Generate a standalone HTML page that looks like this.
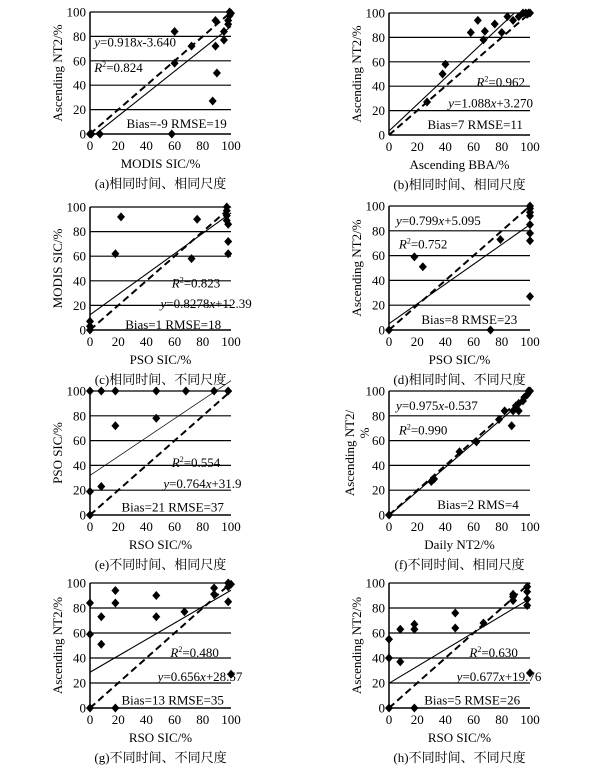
<!DOCTYPE html>
<html><head><meta charset="utf-8"><style>
html,body{margin:0;padding:0;background:#fff}
svg{display:block}
text{font-family:"Liberation Serif","Noto Serif CJK SC","Noto Sans CJK SC",serif;fill:#000}
</style></head><body>
<svg id="s" width="609" height="772" xmlns="http://www.w3.org/2000/svg"></svg>
<script>
const P=[
{x0:90,y0:134,yt:12,xl:"MODIS SIC/%",yl:"Ascending NT2/%",cap:"(a)相同时间、相同尺度",
 pts:[[0,0],[1,0],[7,0],[58,0],[60,58],[60,84],[72,72],[87,27],[89,93],[89,72],[90,50],[95,84],[95,77],[98,90],[98,93],[99,97],[99,100],[100,99]],
 reg:[0.918,-3.64],rx:[4,100],tx:[["y=0.918x-3.640",3,75,"s"],["R2=0.824",3,54,"s"],["Bias=-9 RMSE=19",97,8,"e"]]},
{x0:389,y0:135,yt:13,xl:"Ascending BBA/%",yl:"Ascending NT2/%",cap:"(b)相同时间、相同尺度",
 pts:[[27,27],[38,50],[40,58],[58,84],[63,94],[67,78],[68,85],[75,91],[80,84],[84,97],[88,94],[92,97],[95,100],[97,100],[99,100],[100,100],[98,99]],
 reg:[1.088,3.27],rx:[0,89],tx:[["R2=0.962",62,43,"s"],["y=1.088x+3.270",42,26,"s"],["Bias=7 RMSE=11",95,8,"e"]]},
{x0:90,y0:330,yt:207,xl:"PSO SIC/%",yl:"MODIS SIC/%",cap:"(c)相同时间、不同尺度",
 pts:[[0,0],[0,3],[0,7],[18,62],[22,92],[72,58],[76,90],[97,100],[97,97],[97,93],[97,89],[98,72],[98,62],[98,86]],
 reg:[0.8278,12.39],rx:[0,100],tx:[["R2=0.823",58,38,"s"],["y=0.8278x+12.39",50,21,"s"],["Bias=1 RMSE=18",93,4,"e"]]},
{x0:389,y0:330,yt:206,xl:"PSO SIC/%",yl:"Ascending NT2/%",cap:"(d)相同时间、不同尺度",
 pts:[[0,0],[18,59],[24,51],[72,0],[79,73],[100,27],[100,72],[100,78],[100,85],[100,92],[100,95],[100,98],[100,100]],
 reg:[0.799,5.095],rx:[0,100],tx:[["y=0.799x+5.095",5,88,"s"],["R2=0.752",7,69,"s"],["Bias=8 RMSE=23",91,8,"e"]]},
{x0:90,y0:515,yt:391,xl:"RSO SIC/%",yl:"PSO SIC/%",cap:"(e)不同时间、相同尺度",
 pts:[[0,0],[0,19],[0,100],[8,23],[8,100],[18,72],[18,100],[47,78],[47,100],[68,100],[88,100],[98,100]],
 reg:[0.764,31.9],rx:[0,100],thin:1,tx:[["R2=0.554",58,42,"s"],["y=0.764x+31.9",52,25,"s"],["Bias=21 RMSE=37",95,6,"e"]]},
{x0:389,y0:515,yt:391,xl:"Daily NT2/%",yl:"Ascending NT2/",yl2:"%",cap:"(f)不同时间、相同尺度",
 pts:[[0,0],[30,27],[32,29],[50,51],[62,59],[78,77],[82,84],[87,72],[88,84],[90,88],[92,84],[92,90],[95,92],[96,95],[98,97],[99,100],[100,100]],
 reg:[0.975,-0.537],rx:[1,100],tx:[["y=0.975x-0.537",5,88,"s"],["R2=0.990",7,68,"s"],["Bias=2 RMS=4",92,8,"e"]]},
{x0:90,y0:708,yt:583,xl:"RSO SIC/%",yl:"Ascending NT2/%",cap:"(g)不同时间、不同尺度",
 pts:[[0,0],[0,59],[0,84],[8,73],[8,51],[18,94],[18,84],[18,0],[47,90],[47,73],[67,77],[88,96],[88,91],[98,100],[98,97],[98,85],[100,27],[100,99]],
 reg:[0.656,28.57],rx:[0,100],tx:[["R2=0.480",57,44,"s"],["y=0.656x+28.57",48,25,"s"],["Bias=13 RMSE=35",95,6,"e"]]},
{x0:389,y0:708,yt:583,xl:"RSO SIC/%",yl:"Ascending NT2/%",cap:"(h)不同时间、不同尺度",
 pts:[[0,0],[0,40],[0,55],[8,37],[8,63],[18,63],[18,67],[18,0],[47,64],[47,76],[67,68],[88,86],[88,89],[88,91],[98,97],[98,93],[98,87],[98,82],[100,28]],
 reg:[0.677,19.76],rx:[0,100],tx:[["R2=0.630",57,44,"s"],["y=0.677x+19.76",48,25,"s"],["Bias=5 RMSE=26",93,6,"e"]]}
];
let h="";
for(const p of P){
 const W=141,H=p.y0-p.yt;
 const X=v=>p.x0+v/100*W, Y=v=>p.y0-v/100*H;
 for(let g=20;g<=100;g+=20) h+=`<line x1="${p.x0}" x2="${p.x0+W}" y1="${Y(g)}" y2="${Y(g)}" stroke="#000" stroke-width="1.2"/>`;
 h+=`<line x1="${p.x0}" x2="${p.x0}" y1="${p.yt}" y2="${p.y0}" stroke="#000" stroke-width="1.5"/>`;
 h+=`<line x1="${p.x0}" x2="${p.x0+W}" y1="${p.y0}" y2="${p.y0}" stroke="#000" stroke-width="1.5"/>`;
 for(let t=0;t<=100;t+=20){
  h+=`<text x="${p.x0-4}" y="${Y(t)+4.5}" font-size="13" text-anchor="end">${t}</text>`;
  h+=`<text x="${X(t)}" y="${p.y0+16}" font-size="13" text-anchor="middle">${t}</text>`;
 }
 h+=`<line x1="${X(0)}" y1="${Y(0)}" x2="${X(100)}" y2="${Y(100)}" stroke="#000" stroke-width="2" stroke-dasharray="7,4"/>`;
 const [a,b]=p.reg;
 h+=`<line x1="${X(p.rx[0])}" y1="${Y(a*p.rx[0]+b)}" x2="${X(p.rx[1])}" y2="${Y(a*p.rx[1]+b)}" stroke="#000" stroke-width="${p.thin?0.7:1.1}"/>`;
 for(const [u,v] of p.pts){const cx=X(u),cy=Y(v);h+=`<polygon points="${cx},${cy-4.5} ${cx+4},${cy} ${cx},${cy+4.5} ${cx-4},${cy}" fill="#000"/>`;}
 for(const [s,u,v,an] of p.tx){
  let c=s.replace(/^y=/,'<tspan font-style="italic">y</tspan>=').replace(/x([+-])/,'<tspan font-style="italic">x</tspan>$1').replace(/^R2/,'<tspan font-style="italic">R</tspan><tspan font-size="8" dy="-5">2</tspan><tspan dy="5">').replace(/(R<\/tspan><tspan[^>]*>2<\/tspan><tspan dy="5">)(.*)$/,'$1$2</tspan>');
  h+=`<text x="${X(u)}" y="${Y(v)+4}" font-size="13" text-anchor="${an=='e'?'end':'start'}">${c}</text>`;
 }
 const cx=p.x0+W/2;
 h+=`<text x="${cx}" y="${p.y0+34}" font-size="13" text-anchor="middle">${p.xl}</text>`;
 h+=`<text x="${cx}" y="${p.y0+54}" font-size="13" text-anchor="middle">${p.cap}</text>`;
 const ym=(p.yt+p.y0)/2;
 if(p.yl2){
  h+=`<text transform="translate(${p.x0-35},${ym}) rotate(-90)" font-size="13" text-anchor="middle">${p.yl}</text>`;
  h+=`<text transform="translate(${p.x0-20},${ym-20}) rotate(-90)" font-size="13" text-anchor="middle">${p.yl2}</text>`;
 } else
  h+=`<text transform="translate(${p.x0-28},${ym}) rotate(-90)" font-size="13" text-anchor="middle">${p.yl}</text>`;
}
document.getElementById('s').innerHTML=h;
</script>
</body></html>
